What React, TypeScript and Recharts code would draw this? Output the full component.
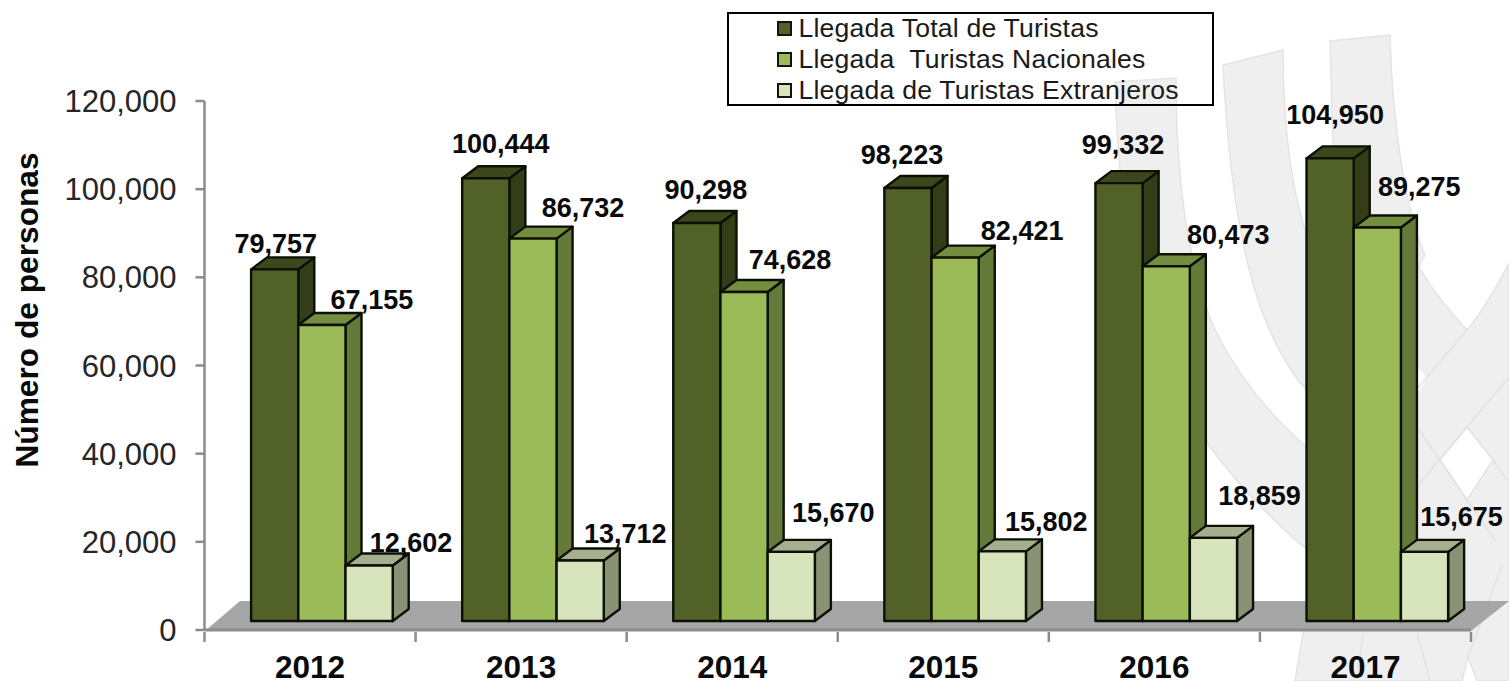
import React from "react";
import { BarChart, Bar, XAxis, YAxis, Legend, LabelList } from "recharts";

const years = ["2012", "2013", "2014", "2015", "2016", "2017"];
const totalTuristas = [79757, 100444, 90298, 98223, 99332, 104950];
const nacionales = [67155, 86732, 74628, 82421, 80473, 89275];
const extranjeros = [12602, 13712, 15670, 15802, 18859, 15675];
const yTicks = [0, 20000, 40000, 60000, 80000, 100000, 120000];

const rows = years.map((year, i) => ({
  year,
  total: totalTuristas[i],
  nacional: nacionales[i],
  extranjero: extranjeros[i],
}));

const W = 1509;
const H = 681;
const X_AXIS_H = 51;
const MARGIN = { top: 101, right: 38, bottom: 0, left: 0 };
const Y_AXIS_W = 204.5;
const BAND = (W - MARGIN.right - Y_AXIS_W) / years.length;
const SHIFT_X = 11.6;
const SHIFT_Y = -9;
const DEPTH_X = 16;
const DEPTH_Y = -12;
const FONT = '"Liberation Sans", Arial, sans-serif';

// hand placed data labels: offset from the centre top of each front face
const totalDx = [1, 15, 9, -6, 4, 5];
const totalDy = [-25, -34, -33, -33, -38, -43];
const nacionalDx = [50, 50, 46, 67, 62, 42];
const nacionalDy = [-25, -31, -32, -27, -31, -40];
const extranjeroDx = [42, 45, 42, 44, 46, 37];
const extranjeroDy = [-22, -27, -39, -29, -42, -35];

const bar3D = (front: string, top: string, side: string) => (props: any) => {
  const x = props.x + SHIFT_X;
  const y = props.y + SHIFT_Y;
  const w = props.width;
  const h = props.height;
  const common = { stroke: "#0c1004", strokeWidth: 2.4, strokeLinejoin: "round" as const };
  return (
    <g>
      <polygon
        points={`${x + w},${y} ${x + w + DEPTH_X},${y + DEPTH_Y} ${x + w + DEPTH_X},${y + h + DEPTH_Y} ${x + w},${y + h}`}
        fill={side}
        {...common}
      />
      <polygon
        points={`${x},${y} ${x + DEPTH_X},${y + DEPTH_Y} ${x + w + DEPTH_X},${y + DEPTH_Y} ${x + w},${y}`}
        fill={top}
        {...common}
      />
      <rect x={x} y={y} width={w} height={h} fill={front} {...common} />
    </g>
  );
};

const valueLabel = (dxs: number[], dys: number[]) => (props: any) => {
  const { x, y, width, value, index } = props;
  return (
    <text
      x={x + width / 2 + SHIFT_X + dxs[index]}
      y={y + SHIFT_Y + dys[index]}
      textAnchor="middle"
      dominantBaseline="central"
      fontFamily={FONT}
      fontWeight="bold"
      fontSize={27}
      fill="#0a0a0a"
    >
      {Number(value).toLocaleString("en-US")}
    </text>
  );
};

const XTick = (props: any) => {
  const { x, y, payload, index } = props;
  const left = x - BAND / 2;
  const last = index === years.length - 1;
  const tickColor = "#8c8c8c";
  return (
    <g>
      <line x1={left} x2={left} y1={y} y2={y + 10} stroke={tickColor} strokeWidth={2.5} />
      {last && <line x1={left + BAND} x2={left + BAND} y1={y} y2={y + 10} stroke={tickColor} strokeWidth={2.5} />}
      <text x={x} y={H - 3} textAnchor="middle" fontFamily={FONT} fontWeight="bold" fontSize={31.5} fill="#0a0a0a">
        {payload.value}
      </text>
    </g>
  );
};

const LegendBox = (props: any) => (
  <div
    style={{
      position: "relative",
      width: 487,
      height: 94,
      boxSizing: "border-box",
      border: "2.5px solid #000",
      fontFamily: FONT,
      fontSize: 26.6,
      letterSpacing: 0.2,
      color: "#1a1a1a",
    }}
  >
    {(props.payload || []).map((p: any, i: number) => (
      <div key={p.value}>
        <div
          style={{
            position: "absolute",
            left: 48,
            top: 7 + i * 31,
            width: 15,
            height: 15,
            boxSizing: "border-box",
            background: p.color,
            border: "2px solid #10140a",
          }}
        />
        <div
          style={{
            position: "absolute",
            left: 69.5,
            top: -1 + i * 31,
            lineHeight: "30px",
            whiteSpace: "pre",
          }}
        >
          {p.value}
        </div>
      </div>
    ))}
  </div>
);

const Backdrop = () => {
  const band = { fill: "#efefef", stroke: "#e4e4e4", strokeWidth: 1.5 };
  const seam = { stroke: "#e3e3e3", strokeWidth: 1.5, fill: "none" };
  return (
    <svg width={W} height={H} style={{ position: "absolute", left: 0, top: 0 }}>
      <path {...band} d="M1115,82 L1176,78 C1176,170 1185,260 1215,330 C1240,380 1275,420 1310,450 L1310,552 C1270,520 1230,475 1205,440 C1150,370 1120,260 1115,82Z" />
      <path {...band} d="M1223,65 L1283,50 C1283,120 1290,190 1310,245 L1330,300 L1330,400 L1307,391 C1262,340 1232,250 1223,65Z" />
      <path {...band} d="M1330,41 L1390,35 C1392,120 1405,210 1425,255 L1400,300 L1340,300 C1335,200 1332,120 1330,41Z" />
      <path {...band} d="M1310,300 L1400,225 C1415,270 1440,300 1467,330 C1480,315 1498,285 1509,263 L1509,681 L1477,681 L1468,657 L1462,681 L1295,681 L1303,633 L1310,621 Z" />
      <polygon points="1467,427 1493,460 1467,500 1440,460" fill="#ffffff" stroke="#e3e3e3" strokeWidth={1.5} />
      <polygon points="1405,360 1420,370 1427,378 1420,390 1405,400" fill="#ffffff" />
      <polyline {...seam} points="1467,330 1427,377 1400,410" />
      <polyline {...seam} points="1509,377 1467,427 1410,495" />
      <polyline {...seam} points="1405,410 1440,460 1467,500 1495,540" />
      <polyline {...seam} points="1493,460 1509,483" />
      <polyline {...seam} points="1417,633 1430,681" />
      <polyline {...seam} points="1363,633 1357,681" />
      <polyline {...seam} points="1502,565 1468,657" />
      <polygon points="205,631 240,601 1509,601 1471,631" fill="#a6a6a6" />
    </svg>
  );
};

export default function App() {
  return (
    <div style={{ position: "absolute", left: 0, top: 0, width: W, height: H, background: "#fff", overflow: "hidden" }}>
      <Backdrop />
      <div style={{ position: "absolute", left: 0, top: 0 }}>
        <BarChart width={W} height={H} data={rows} margin={MARGIN} barSize={47.2} barGap={0}>
          <XAxis
            dataKey="year"
            interval={0}
            axisLine={{ stroke: "#8c8c8c", strokeWidth: 3 }}
            tickLine={false}
            tickSize={0}
            height={X_AXIS_H}
            tick={<XTick />}
          />
          <YAxis
            width={Y_AXIS_W}
            domain={[0, 120000]}
            ticks={yTicks}
            interval={0}
            axisLine={{ stroke: "#8c8c8c", strokeWidth: 2.5 }}
            tickLine={{ stroke: "#8c8c8c", strokeWidth: 2.5 }}
            tickSize={9}
            tickMargin={19}
            tickFormatter={(v: number) => v.toLocaleString("en-US")}
            tick={{ fontFamily: FONT, fontSize: 31, fill: "#262626" }}
            label={{
              content: () => (
                <text
                  transform="translate(38,310) rotate(-90)"
                  textAnchor="middle"
                  fontFamily={FONT}
                  fontWeight="bold"
                  fontSize={31.7}
                  fill="#0a0a0a"
                >
                  Número de personas
                </text>
              ),
            }}
          />
          <Legend
            layout="vertical"
            align="center"
            verticalAlign="middle"
            itemSorter={null}
            content={<LegendBox />}
            wrapperStyle={{ position: "absolute", left: 727, top: 12, width: 487, height: 94 }}
          />
          <Bar dataKey="total" name="Llegada Total de Turistas" fill="#526128" isAnimationActive={false} shape={bar3D("#526128", "#3c481c", "#333e18")}>
            <LabelList dataKey="total" content={valueLabel(totalDx, totalDy)} />
          </Bar>
          <Bar dataKey="nacional" name="Llegada  Turistas Nacionales" fill="#9BBB59" isAnimationActive={false} shape={bar3D("#9BBB59", "#738e3f", "#647a38")}>
            <LabelList dataKey="nacional" content={valueLabel(nacionalDx, nacionalDy)} />
          </Bar>
          <Bar dataKey="extranjero" name="Llegada de Turistas Extranjeros" fill="#D7E4BC" isAnimationActive={false} shape={bar3D("#D7E4BC", "#a5ae8f", "#8a9276")}>
            <LabelList dataKey="extranjero" content={valueLabel(extranjeroDx, extranjeroDy)} />
          </Bar>
        </BarChart>
      </div>
    </div>
  );
}
